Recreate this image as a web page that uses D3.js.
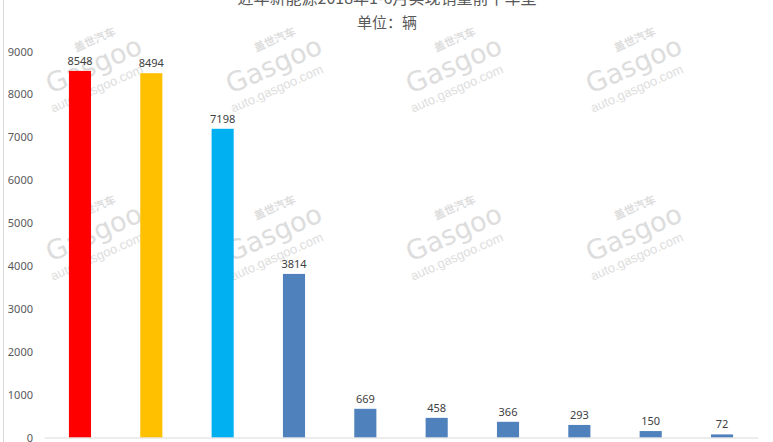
<!DOCTYPE html>
<html><head><meta charset="utf-8">
<script src="https://cdn.jsdelivr.net/npm/d3@7"></script>
<style>body{margin:0;background:#fff;}svg{display:block;font-family:"Microsoft YaHei","Noto Sans CJK SC",sans-serif;}</style>
</head><body>
<script>
const categories = ["车型1","车型2","车型3","车型4","车型5","车型6","车型7","车型8","车型9","车型10"];
const values = [8548, 8494, 7198, 3814, 669, 458, 366, 293, 150, 72];
const barColors = ["#ff0000","#ffc000","#00b0f0","#4f81bd","#4f81bd","#4f81bd","#4f81bd","#4f81bd","#4f81bd","#4f81bd"];
const yTicks = [0,1000,2000,3000,4000,5000,6000,7000,8000,9000];
const title = "近年新能源2018年1-6月实现销量前十车型";
const subtitle = "单位：辆";

const W = 773, H = 442;
const svg = d3.select("body").append("svg").attr("width", W).attr("height", H);

svg.append("line").attr("x1",3.5).attr("x2",3.5).attr("y1",0).attr("y2",H).attr("stroke","#d9d9d9");

const x = d3.scaleBand().domain(categories).range([44.3, 757.7]).paddingInner(0.69).paddingOuter(0.345);
const y = d3.scaleLinear().domain([0, 9000]).range([437.5, 51.5]);

// watermarks (behind)
const wmX = [86, 266, 446, 626], wmY = [74, 242];
wmY.forEach(wy => wmX.forEach(wx => {
  const g = svg.append("g").attr("transform",`translate(${wx},${wy}) rotate(-24)`)
    .attr("fill","#c8c8c8").attr("opacity",0.6);
  g.append("text").attr("x",0).attr("y",-24).attr("font-size",11).attr("font-weight","bold").text("盖世汽车");
  g.append("text").attr("x",-40).attr("y",4).attr("font-size",27).attr("font-family","DejaVu Sans, sans-serif").text("Gasgoo");
  g.append("text").attr("x",-46).attr("y",22).attr("font-size",13).attr("font-family","Liberation Sans, sans-serif").text("auto.gasgoo.com");
}));

svg.append("text").attr("x", 387).attr("y", 4).attr("text-anchor","middle")
  .attr("font-size",16).attr("fill","#595959").text(title);
svg.append("text").attr("x", 387).attr("y", 28).attr("text-anchor","middle")
  .attr("font-size",15).attr("fill","#595959").text(subtitle);

// y axis labels
const yAxis = d3.axisLeft(y).tickValues(yTicks).tickSize(0).tickPadding(0).tickFormat(d3.format("d"));
const ga = svg.append("g").attr("transform","translate(33,0)").call(yAxis);
ga.select(".domain").remove();
ga.selectAll("text").attr("font-size",11).attr("fill","#595959").attr("font-family","Microsoft YaHei, Noto Sans, sans-serif");

// bars
svg.selectAll("rect.bar").data(values).join("rect").attr("class","bar")
  .attr("x",(d,i)=>x(categories[i])).attr("width",x.bandwidth())
  .attr("y",d=>y(d)).attr("height",d=>y(0)-y(d))
  .attr("fill",(d,i)=>barColors[i]);

// baseline
const xAxis = d3.axisBottom(x).tickSize(0).tickFormat("");
const gx = svg.append("g").attr("transform",`translate(0,${y(0)})`).call(xAxis);
gx.select(".domain").attr("stroke","#d9d9d9");

// value labels
svg.selectAll("text.val").data(values).join("text").attr("class","val")
  .attr("x",(d,i)=>x(categories[i])+x.bandwidth()/2).attr("y",d=>y(d)-6)
  .attr("text-anchor","middle").attr("font-size",11).attr("fill","#404040")
  .attr("font-family","Noto Sans, sans-serif")
  .text(d=>d);
</script>
</body></html>
